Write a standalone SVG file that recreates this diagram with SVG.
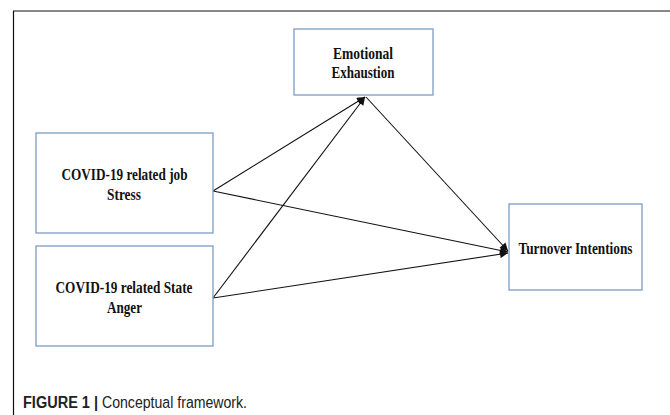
<svg xmlns="http://www.w3.org/2000/svg" width="670" height="415" viewBox="0 0 670 415">
<style>
.box{fill:#fff;stroke:#7f9cc2;stroke-width:1.3}
.lbl{font-family:"Liberation Sans",Arial,sans-serif;font-family:"Liberation Serif","Times New Roman",serif;font-weight:bold;font-size:16.5px;fill:#111;text-anchor:middle}
.edge{stroke:#111;stroke-width:1.1;fill:none;marker-end:url(#ah)}
.cap{font-family:"Liberation Sans",Arial,sans-serif;font-size:16px;fill:#222}
</style>
<defs>
<marker id="ah" viewBox="0 0 10 10" refX="10" refY="5" markerWidth="9" markerHeight="8" markerUnits="userSpaceOnUse" orient="auto">
<path d="M0,0 L10,5 L0,10 z" fill="#111"/>
</marker>
</defs>
<rect width="670" height="415" fill="#fff"/>
<line x1="13" y1="11" x2="670" y2="11" stroke="#888" stroke-width="2"/>
<line x1="13.5" y1="11" x2="13.5" y2="415" stroke="#111" stroke-width="1.2"/>
<g id="connectors">
<line class="edge" x1="213" y1="191" x2="365" y2="97"/>
<line class="edge" x1="213" y1="298" x2="365" y2="97"/>
<line class="edge" x1="366" y1="97" x2="508" y2="251"/>
<line class="edge" x1="213" y1="191" x2="508" y2="252"/>
<line class="edge" x1="213" y1="298" x2="508" y2="253"/>
</g>
<g id="emotional">
<rect class="box" x="294" y="29" width="139" height="66"/>
<text class="lbl" x="363" y="59" textLength="60" lengthAdjust="spacingAndGlyphs">Emotional</text>
<text class="lbl" x="363" y="78" textLength="63" lengthAdjust="spacingAndGlyphs">Exhaustion</text>
</g>
<g id="jobstress">
<rect class="box" x="36" y="133" width="177" height="100"/>
<text class="lbl" x="124.5" y="180" textLength="126" lengthAdjust="spacingAndGlyphs">COVID-19 related job</text>
<text class="lbl" x="124" y="200" textLength="34" lengthAdjust="spacingAndGlyphs">Stress</text>
</g>
<g id="anger">
<rect class="box" x="36" y="246" width="177" height="100"/>
<text class="lbl" x="124" y="293" textLength="137" lengthAdjust="spacingAndGlyphs">COVID-19 related State</text>
<text class="lbl" x="124.5" y="313" textLength="35" lengthAdjust="spacingAndGlyphs">Anger</text>
</g>
<g id="turnover">
<rect class="box" x="509" y="204" width="133" height="86"/>
<text class="lbl" x="575.5" y="254" textLength="114" lengthAdjust="spacingAndGlyphs">Turnover Intentions</text>
</g>
<text class="cap" x="23" y="408" font-weight="bold" textLength="75" lengthAdjust="spacingAndGlyphs">FIGURE 1 |</text>
<text class="cap" x="102" y="408" textLength="145" lengthAdjust="spacingAndGlyphs">Conceptual framework.</text>
</svg>
